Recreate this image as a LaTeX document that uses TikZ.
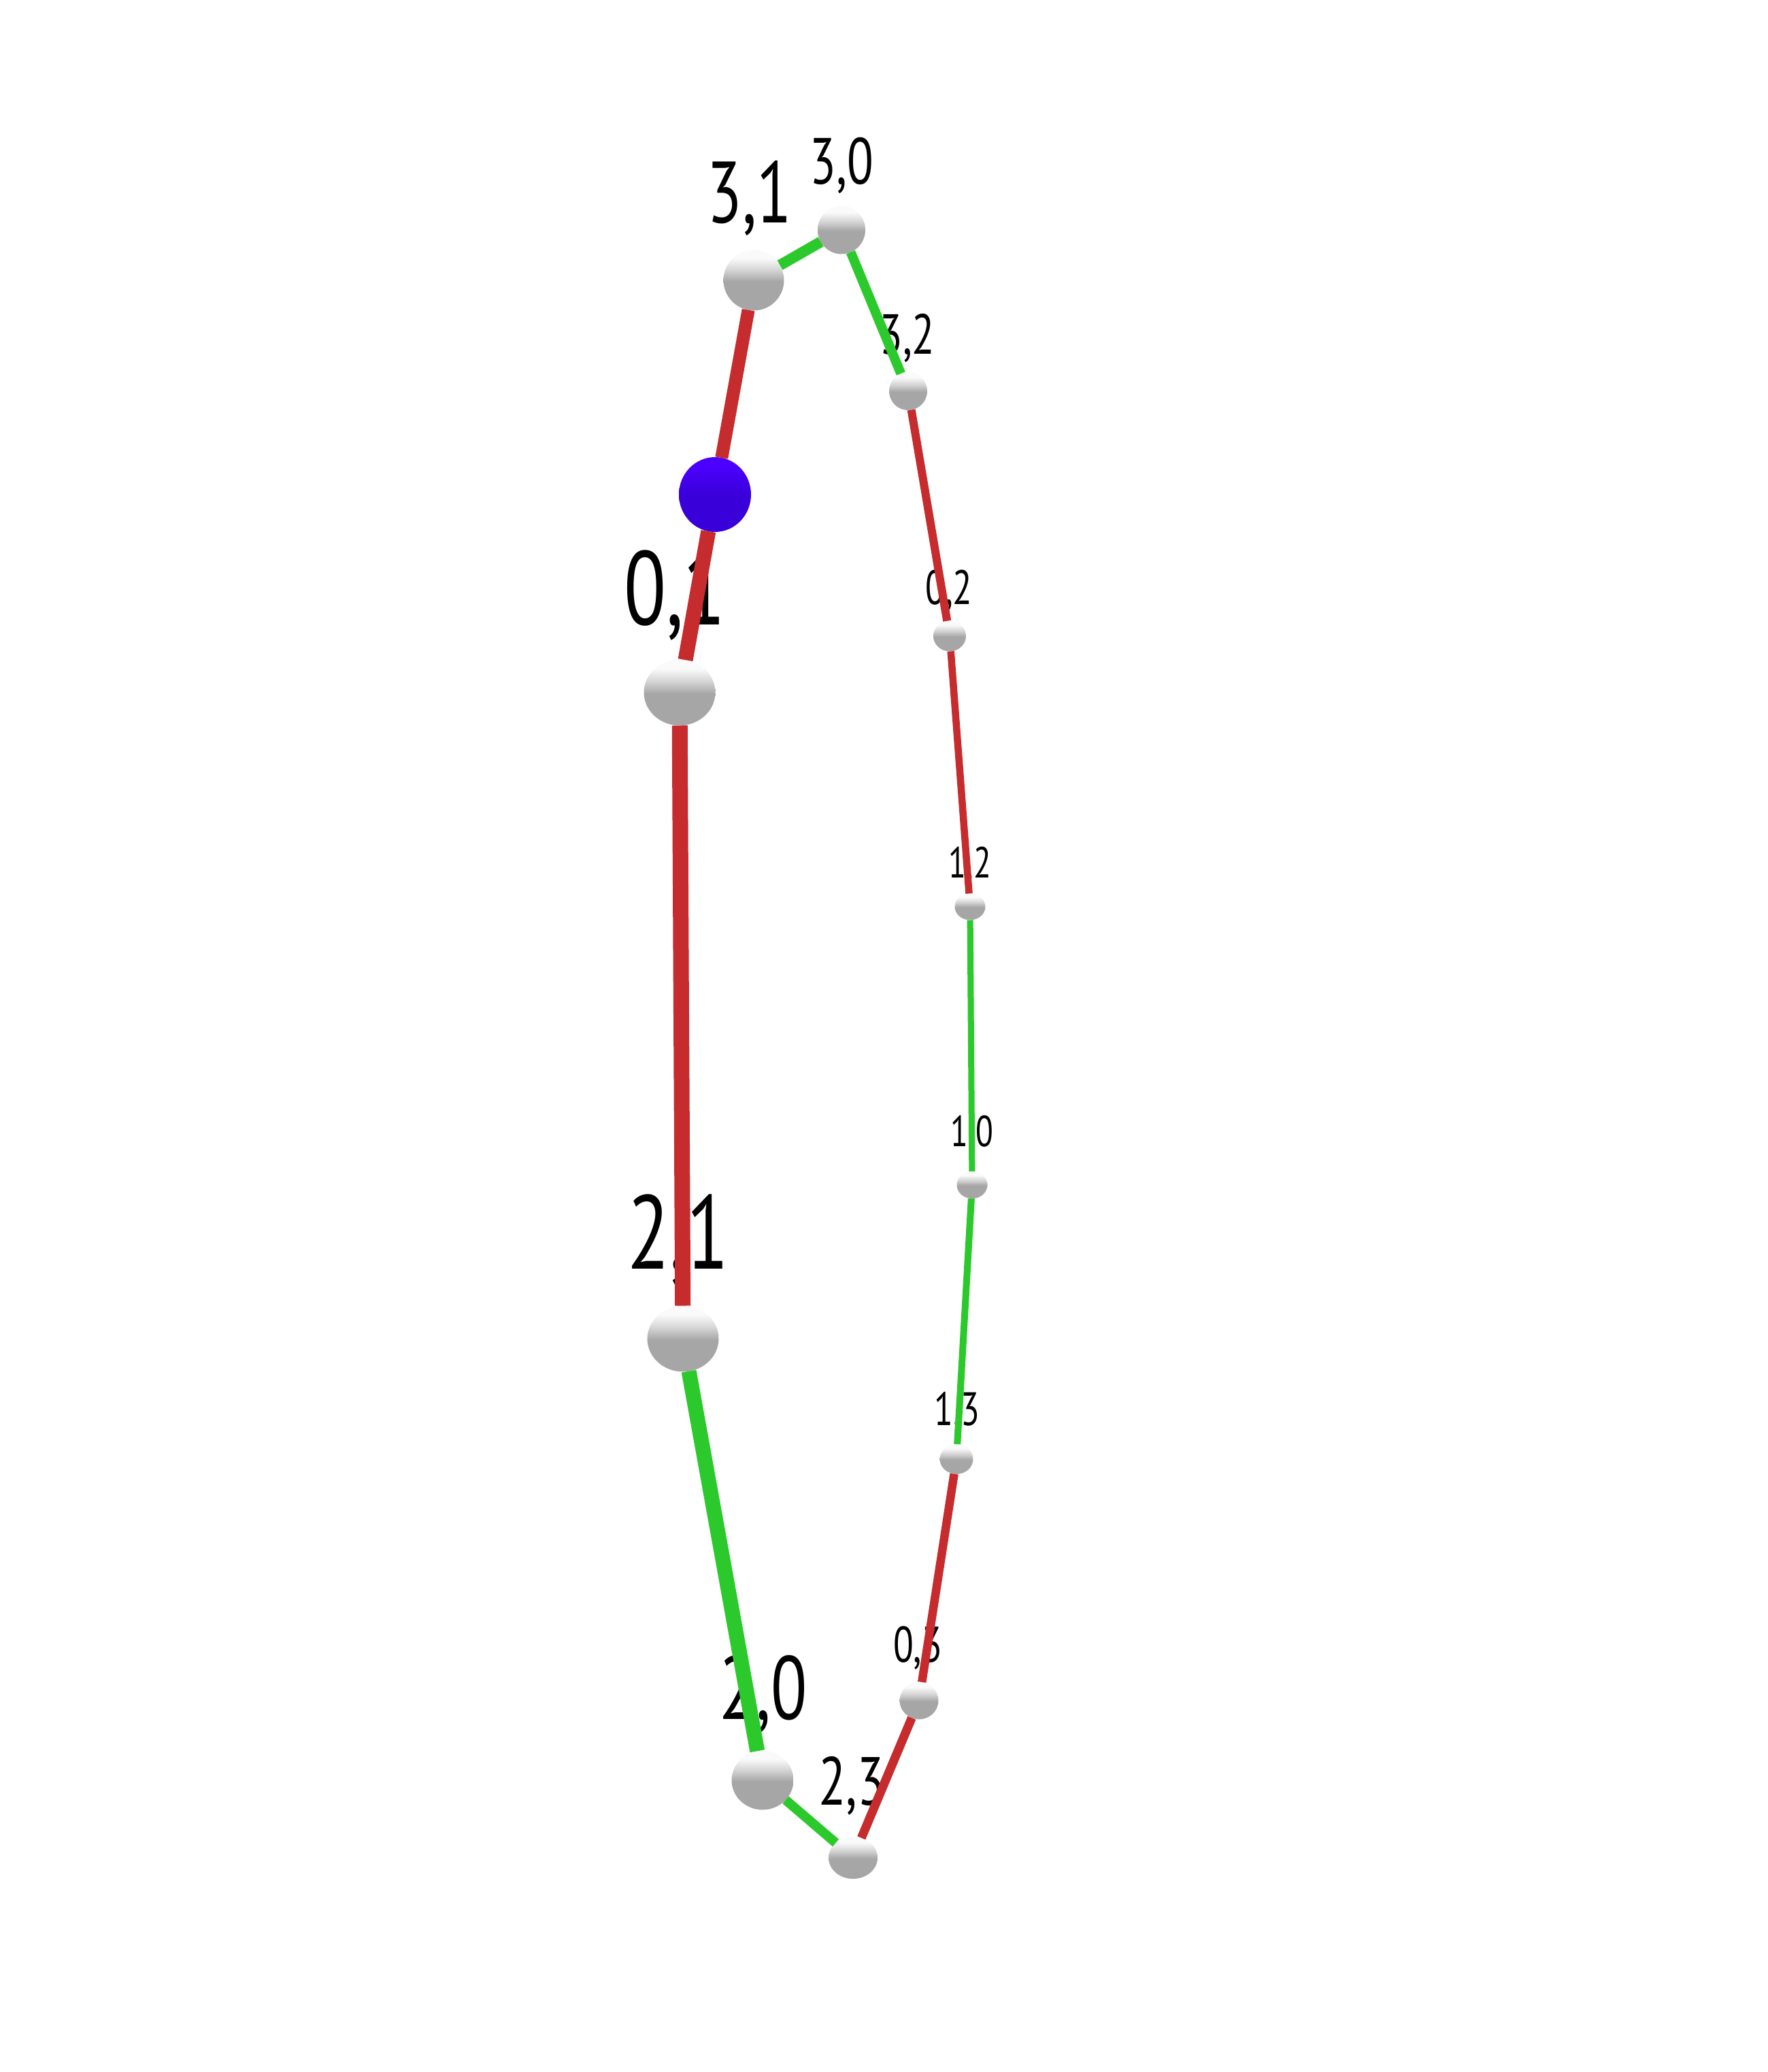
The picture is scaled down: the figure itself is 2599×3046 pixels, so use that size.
\documentclass[tikz,border=0pt]{standalone}
\usepackage{fontspec}
\setmainfont{PT Sans}[FakeStretch=0.74]
\usetikzlibrary{shapes.geometric}
\definecolor{sg}{HTML}{A6A6A6}
\definecolor{sw}{HTML}{FAFAFA}
\definecolor{bb}{HTML}{3A00DA}
\definecolor{bt}{HTML}{4C00FF}
\definecolor{eR}{HTML}{C62B2D}
\definecolor{eG}{HTML}{2BC92B}
\pgfdeclareverticalshading{sphg}{100bp}{color(0bp)=(sg); color(49bp)=(sg); color(58bp)=(sg!50!white); color(68bp)=(sw); color(100bp)=(sw)}
\pgfdeclareverticalshading{sphb}{100bp}{color(0bp)=(bb); color(50bp)=(bb); color(70bp)=(bt); color(100bp)=(bt)}
\tikzset{
  sph/.style 2 args={ellipse, inner sep=0pt, outer sep=0pt, minimum width=#1, minimum height=#2, shading=sphg},
  bsph/.style 2 args={ellipse, inner sep=0pt, outer sep=0pt, minimum width=#1, minimum height=#2, shading=sphb},
  lbl/.style={anchor=base, inner sep=0pt, text=black, font=\fontsize{#1}{#1}\selectfont},
  redE/.style={draw=eR, line width=#1, line cap=butt},
  greenE/.style={draw=eG, line width=#1, line cap=butt}
}
\begin{document}
\begin{tikzpicture}[x=1pt,y=-1pt]
\useasboundingbox[fill=white] (0,0) rectangle (2599,3046);
% labels
\node[lbl=128] (l31) at (1102,327) {3,1};
\node[lbl=96]  (l30) at (1237,270) {3,0};
\node[lbl=83]  (l32) at (1334,520) {3,2};
\node[lbl=71]  (l02) at (1395,888) {0,2};
\node[lbl=64]  (l12) at (1426,1290) {1,2};
\node[lbl=64]  (l10) at (1429,1685) {1,0};
\node[lbl=69]  (l13) at (1407,2095) {1,3};
\node[lbl=74]  (l03) at (1349,2443) {0,3};
\node[lbl=100] (l23) at (1252,2653) {2,3};
\node[lbl=132] (l20) at (1122,2527) {2,0};
\node[lbl=154] (l21) at (997,1865) {2,1};
\node[lbl=154] (l01) at (992,918) {0,1};
% spheres
\node[sph={89pt}{89pt}]   (n31) at (1108,412) {};
\node[sph={70pt}{71pt}]   (n30) at (1237,338) {};
\node[sph={56pt}{56pt}]   (n32) at (1335,575) {};
\node[bsph={106pt}{110pt}] (nb) at (1051,727) {};
\node[sph={105pt}{97pt}]  (n01) at (999,1018) {};
\node[sph={48pt}{45pt}]   (n02) at (1396,935) {};
\node[sph={45pt}{39pt}]   (n12) at (1426,1333) {};
\node[sph={45pt}{40pt}]   (n10) at (1429,1742) {};
\node[sph={49pt}{44pt}]   (n13) at (1406,2145) {};
\node[sph={57pt}{55pt}]   (n03) at (1351,2500) {};
\node[sph={91pt}{87pt}]   (n20) at (1121,2617) {};
\node[sph={72pt}{62pt}]   (n23) at (1254,2731) {};
\node[sph={105pt}{97pt}]  (n21) at (1004,1968) {};
% edges
\draw[greenE=16pt] (n31) -- (n30);
\draw[greenE=14pt] (n30) -- (n32);
\draw[redE=12pt]   (n32) -- (n02);
\draw[redE=10.5pt] (n02) -- (n12);
\draw[greenE=9pt]  (n12) -- (n10);
\draw[greenE=10pt] (n10) -- (n13);
\draw[redE=12.5pt] (n13) -- (n03);
\draw[redE=13pt]   (n03) -- (n23);
\draw[greenE=14pt] (n23) -- (n20);
\draw[greenE=22pt] (n20) -- (n21);
\draw[redE=23pt]   (n21) -- (n01);
\draw[redE=22pt]   (n01) -- (nb);
\draw[redE=19pt]   (nb) -- (n31);
\end{tikzpicture}
\end{document}
